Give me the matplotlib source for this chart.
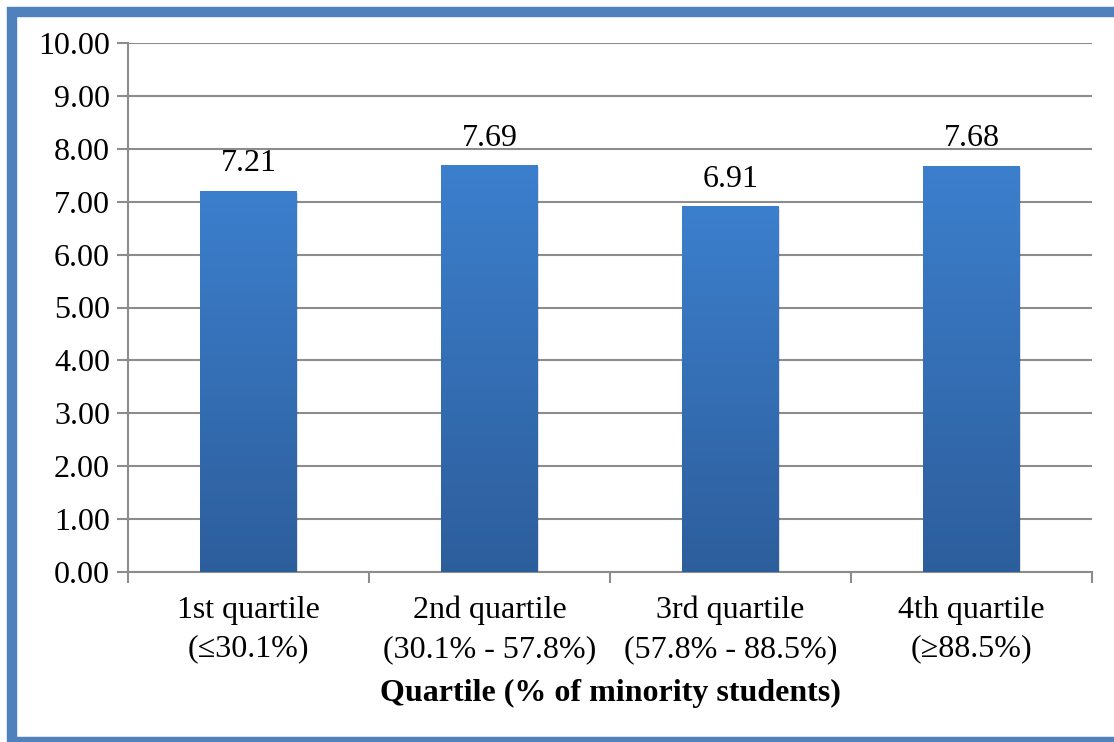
import matplotlib.pyplot as plt
import numpy as np
from matplotlib.patches import Rectangle
from matplotlib.colors import LinearSegmentedColormap

categories = ["1st quartile\n(≤30.1%)", "2nd quartile\n(30.1% - 57.8%)",
              "3rd quartile\n(57.8% - 88.5%)", "4th quartile\n(≥88.5%)"]
values = [7.21, 7.69, 6.91, 7.68]
value_labels = ["7.21", "7.69", "6.91", "7.68"]
y_ticks = [0, 1, 2, 3, 4, 5, 6, 7, 8, 9, 10]

plt.rcParams['font.family'] = ['Liberation Serif', 'DejaVu Serif']

fig = plt.figure(figsize=(11.14, 7.42), dpi=100)
ax = fig.add_axes([128 / 1114, 1 - 572 / 742, (1092 - 128) / 1114, (572 - 43) / 742])

grid_col = '#8c8c8c'
fs = 23
x = np.arange(len(categories))
width = 0.4

ax.set_xlim(-0.5, len(categories) - 0.5)
ax.set_ylim(0, 10)

# gradient bars (lighter on top, darker at bottom)
cmap = LinearSegmentedColormap.from_list('barblue', ['#2d5e9c', '#3c7fcd'])
grad = np.linspace(0, 1, 256).reshape(-1, 1)
bars = ax.bar(x, values, width, color='none', zorder=3)
for b, v in zip(bars, values):
    # soft shadow
    ax.add_patch(Rectangle((b.get_x() + 0.006, -0.04), b.get_width(), v,
                           facecolor='#000000', alpha=0.12, zorder=2.5, linewidth=0))
    im = ax.imshow(grad, cmap=cmap, aspect='auto', origin='lower',
                   extent=(b.get_x(), b.get_x() + b.get_width(), 0, v), zorder=3)
    im.set_clip_path(b)

for xi, v, lab in zip(x, values, value_labels):
    ax.annotate(lab, (xi, v), xytext=(0, 9), textcoords='offset points',
                ha='center', va='bottom', fontsize=fs, color='#000000')

ax.set_yticks(y_ticks)
ax.set_yticklabels([f"{t:.2f}" for t in y_ticks], fontsize=fs)
ax.yaxis.grid(True, color=grid_col, linewidth=1.5, zorder=0)
ax.set_axisbelow(True)

ax.set_xticks(np.arange(-0.5, len(categories), 1.0))
ax.set_xticklabels([])
ax.set_xticks(x, minor=True)
ax.set_xticklabels(categories, minor=True, fontsize=fs, linespacing=1.45)
ax.tick_params(axis='x', which='minor', length=0, pad=17)
ax.tick_params(axis='x', which='major', length=8, width=1.5, color=grid_col, direction='out')
ax.tick_params(axis='y', length=8, width=1.5, color=grid_col, pad=5)

for side in ['top', 'right']:
    ax.spines[side].set_visible(False)
for side in ['left', 'bottom']:
    ax.spines[side].set_color(grid_col)
    ax.spines[side].set_linewidth(1.5)

ax.set_xlabel("Quartile (% of minority students)", fontsize=fs, fontweight='bold', labelpad=11)

# blue frame around the chart
fig.patches.append(Rectangle((12 / 1114, 0), 1.2, (742 - 12) / 742,
                             transform=fig.transFigure, fill=False,
                             edgecolor='#4f81bd', linewidth=7.5, zorder=10))

fig.savefig('out.png', dpi=100, facecolor='white')
